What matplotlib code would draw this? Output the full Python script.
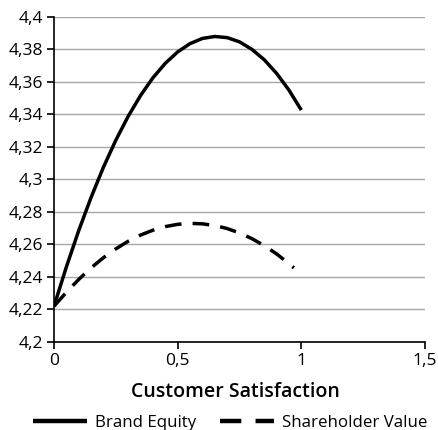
import numpy as np
import matplotlib
matplotlib.use("Agg")
import matplotlib.pyplot as plt
from matplotlib.ticker import FuncFormatter

plt.rcParams['font.family'] = ['Open Sans', 'DejaVu Sans']

# values
brand_x = [0, 0.05, 0.1, 0.15, 0.2, 0.25, 0.3, 0.35, 0.4, 0.45, 0.5,
           0.55, 0.6, 0.65, 0.7, 0.75, 0.8, 0.85, 0.9, 0.95, 1.0]
brand_y = [4.222, 4.2462, 4.2686, 4.289, 4.3076, 4.3242, 4.3389, 4.3517, 4.3626, 4.3715, 4.3785,
           4.3836, 4.3868, 4.388, 4.3873, 4.3847, 4.3801, 4.3737, 4.3653, 4.355, 4.3427]

share_x = [0, 0.05, 0.1, 0.15, 0.2, 0.25, 0.3, 0.35, 0.4, 0.45, 0.5,
           0.55, 0.6, 0.65, 0.7, 0.75, 0.8, 0.85, 0.9, 0.95, 0.97]
share_y = [4.222, 4.2306, 4.2385, 4.2456, 4.2519, 4.2573, 4.262, 4.2658, 4.2688, 4.271, 4.2724,
           4.273, 4.2727, 4.2717, 4.2698, 4.2671, 4.2636, 4.2593, 4.2542, 4.2482, 4.2456]

x_ticks = [0, 0.5, 1, 1.5]
y_ticks = [4.2, 4.22, 4.24, 4.26, 4.28, 4.3, 4.32, 4.34, 4.36, 4.38, 4.4]


def comma(v, pos):
    s = ('%.2f' % v).rstrip('0').rstrip('.')
    return s.replace('.', ',')


fig = plt.figure(figsize=(4.38, 4.30), dpi=100)
ax = fig.add_axes([0.1233, 0.2047, 0.8470, 0.7558])

ax.plot(brand_x, brand_y, color='black', lw=2.5, solid_capstyle='butt', label='Brand Equity')
ax.plot(share_x, share_y, color='black', lw=2.5, linestyle=(0, (4.8, 3.2)), label='Shareholder Value')

ax.set_xlim(0, 1.5)
ax.set_ylim(4.2, 4.4)
ax.set_xticks(x_ticks)
ax.set_yticks(y_ticks)
ax.xaxis.set_major_formatter(FuncFormatter(comma))
ax.yaxis.set_major_formatter(FuncFormatter(comma))
ax.grid(axis='y', color='#a6a6a6', lw=1)
ax.set_axisbelow(True)
for s in ['top', 'right']:
    ax.spines[s].set_visible(False)
for s in ['left', 'bottom']:
    ax.spines[s].set_color('black')
    ax.spines[s].set_linewidth(1.2)
ax.tick_params(direction='out', length=5, width=1.2, labelsize=12.5, colors='black', pad=3)

ax.set_xlabel('Customer Satisfaction', fontsize=14, fontweight='semibold')
ax.xaxis.set_label_coords(0.49, -0.123)

handles, labels = ax.get_legend_handles_labels()
leg = fig.legend(handles, labels, loc='center', bbox_to_anchor=(230 / 438, 1 - 423 / 430),
                 ncol=2, frameon=False, fontsize=12.2, handlelength=3.2,
                 columnspacing=1.4, handletextpad=0.45, borderaxespad=0, borderpad=0)
for h in leg.get_lines():
    h.set_linewidth(3.2)

plt.savefig('out.png', dpi=100)
